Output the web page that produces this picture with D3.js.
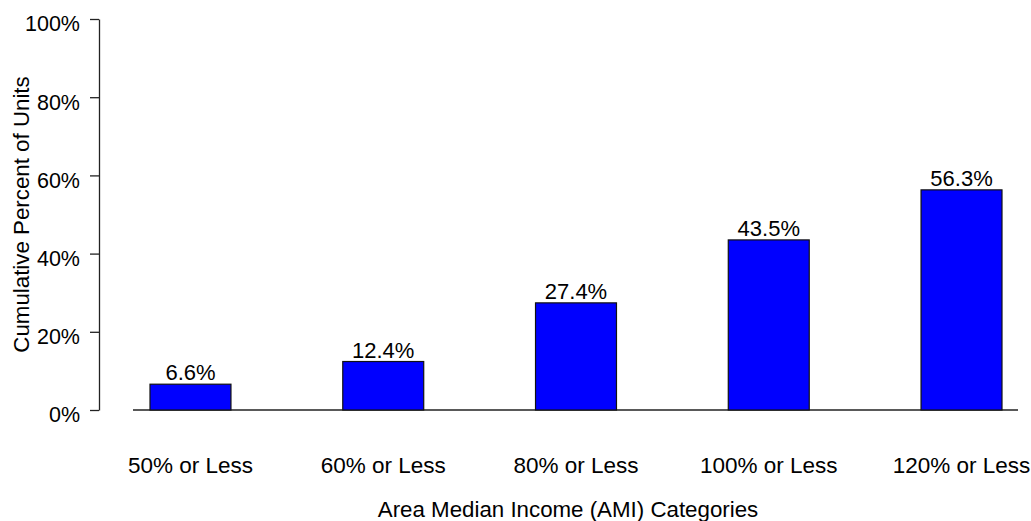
<!DOCTYPE html>
<html><head><meta charset="utf-8">
<script src="https://cdn.jsdelivr.net/npm/d3@7"></script>
<style>
html,body{margin:0;padding:0;background:#fff;}
text{font-family:"Liberation Sans",Arial,sans-serif;fill:#000;}
</style></head>
<body><svg id="c" width="1031" height="521"></svg>
<script>
const categories = ["50% or Less","60% or Less","80% or Less","100% or Less","120% or Less"];
const values = [6.6, 12.4, 27.4, 43.5, 56.3];
const valueLabels = ["6.6%","12.4%","27.4%","43.5%","56.3%"];
const yTicks = [0,20,40,60,80,100];
const xTitle = "Area Median Income (AMI) Categories";
const yTitle = "Cumulative Percent of Units";

const svg = d3.select("#c");
const x = d3.scaleBand().domain(categories).range([150,1002]).paddingInner(0.58).paddingOuter(0);
const y = d3.scaleLinear().domain([0,100]).range([410,19]);

// y axis
const yAxis = svg.append("g").attr("transform","translate(99,0)")
  .call(d3.axisLeft(y).tickValues(yTicks).tickSize(9).tickSizeOuter(0).tickPadding(10).tickFormat(d=>d+"%"));
yAxis.selectAll("text").style("font-size","21.5px").attr("dy","0.55em").attr("y",0);
yAxis.selectAll("line,path").attr("stroke","#222").attr("stroke-width",1.3);

// baseline
svg.append("line").attr("x1",133).attr("x2",1018).attr("y1",y(0)).attr("y2",y(0))
  .attr("stroke","#222").attr("stroke-width",1.3);

// bars
svg.selectAll("rect.bar").data(values).enter().append("rect")
  .attr("x",(d,i)=>x(categories[i])).attr("width",x.bandwidth())
  .attr("y",d=>y(d)).attr("height",d=>y(0)-y(d))
  .attr("fill","#0000FF").attr("stroke","#111").attr("stroke-width",1.2);

// value labels
svg.selectAll("text.val").data(values).enter().append("text")
  .attr("x",(d,i)=>x(categories[i])+x.bandwidth()/2).attr("y",d=>y(d)-4)
  .attr("text-anchor","middle").style("font-size","22px").text((d,i)=>valueLabels[i]);

// x category labels
svg.selectAll("text.cat").data(categories).enter().append("text")
  .attr("x",d=>x(d)+x.bandwidth()/2).attr("y",473)
  .attr("text-anchor","middle").style("font-size","22.5px").text(d=>d);

// titles
svg.append("text").attr("x",568).attr("y",517).attr("text-anchor","middle")
  .style("font-size","22.3px").text(xTitle);
svg.append("text").attr("transform","translate(29,214.5) rotate(-90)").attr("text-anchor","middle")
  .style("font-size","22.3px").text(yTitle);
</script></body></html>
